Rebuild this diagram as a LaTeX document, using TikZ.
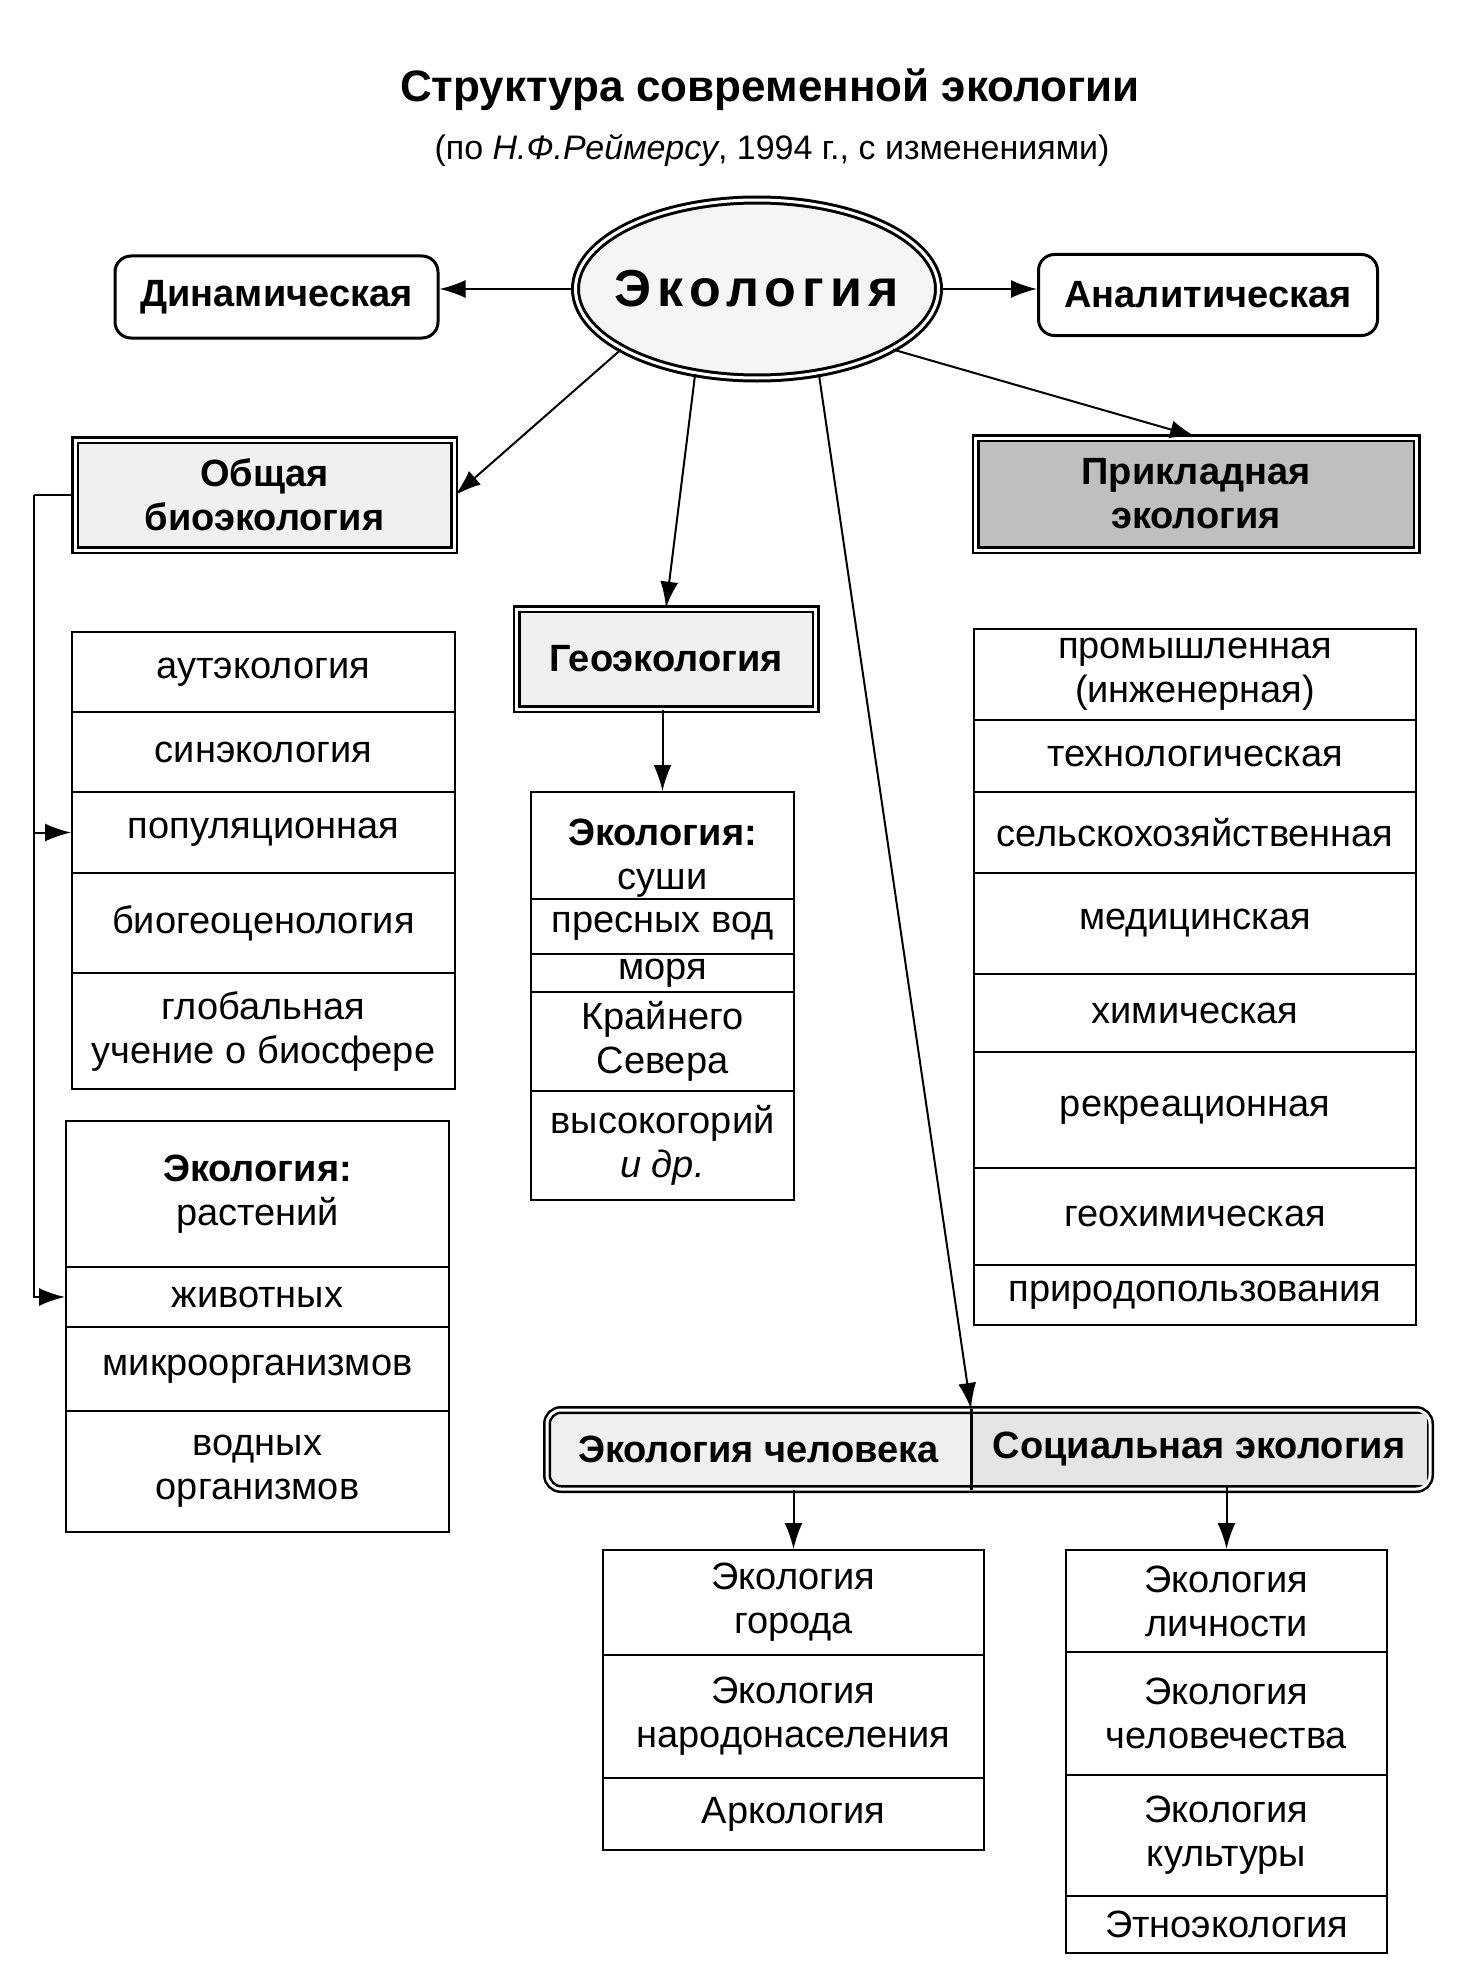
\documentclass[tikz,border=0pt]{standalone}
\usepackage{fontspec}
\setmainfont{Liberation Sans}
\newfontfamily\widefont[LetterSpace=12]{Liberation Sans}
\usetikzlibrary{arrows.meta,shapes.geometric}

\newcommand{\rowfont}{\fontsize{38}{44}\selectfont}

\begin{document}
\begin{tikzpicture}[x=1pt, y=-1pt, ->, >={Latex[length=26pt,width=18pt]}, line width=2pt,
    listbox/.style={draw, anchor=north west, inner sep=0pt, align=center, font=\rowfont},
    pill/.style={draw, line width=3pt, rounded corners=16pt, inner sep=0pt, font=\rowfont\bfseries},
    headbox/.style={draw, line width=2.5pt, double, double distance=3pt, fill=gray!12, inner sep=0pt, align=center, font=\rowfont\bfseries},
    pane/.style={inner sep=0pt, font=\rowfont\bfseries}]
    \useasboundingbox[fill=white] (0,0) rectangle (1470,1961);

    \node[font=\bfseries\fontsize{44}{52}\selectfont] (title) at (770,90) {Структура современной экологии};
    \node[font=\fontsize{34}{40}\selectfont] (sub) at (772,150) {(по \textit{Н.Ф.Реймерсу}, 1994 г., с изменениями)};

    \node[draw, ellipse, line width=3pt, double, double distance=3pt, fill=gray!8, minimum width=363pt, minimum height=178pt, inner sep=0pt,
          font=\widefont\fontsize{52}{60}\selectfont\bfseries] (eco) at (757,289) {\makebox[0pt]{Экология}};
    \node[pill, minimum width=323pt, minimum height=82pt] (dyn) at (276.5,297) {Динамическая};
    \node[pill, minimum width=339pt, minimum height=81pt] (ana) at (1208,295) {Аналитическая};

    \node[headbox, minimum width=379pt, minimum height=110pt] (obs) at (264.5,495) {Общая\\биоэкология};
    \node[headbox, minimum width=299pt, minimum height=100pt] (geo) at (666,659) {Геоэкология};
    \node[headbox, fill=gray!50, minimum width=441pt, minimum height=112pt] (app) at (1196,494) {Прикладная\\экология};

    % biology
    \node[listbox, minimum width=383pt, minimum height=80pt] (b1) at (71,631) {аутэкология};
    \node[listbox, minimum width=383pt, minimum height=80pt] (b2) at (71,711) {синэкология};
    \node[listbox, minimum width=383pt, minimum height=81pt] (b3) at (71,791) {популяционная};
    \node[listbox, minimum width=383pt, minimum height=100pt] (b4) at (71,872) {биогеоценология};
    \node[listbox, minimum width=383pt, minimum height=116pt] (b5) at (71,972) {глобальная\\учение о биосфере};

    \node[listbox, minimum width=383pt, minimum height=146pt] (z1) at (65,1120) {\textbf{Экология:}\\растений};
    \node[listbox, minimum width=383pt, minimum height=60pt] (z2) at (65,1266) {животных};
    \node[listbox, minimum width=383pt, minimum height=84pt] (z3) at (65,1326) {микроорганизмов};
    \node[listbox, minimum width=383pt, minimum height=121pt] (z4) at (65,1410) {водных\\организмов};

    % geo
    \node[listbox, minimum width=263pt, minimum height=107pt] (g1) at (530,791) {\rule{0pt}{52pt}\textbf{Экология:}\\суши};
    \node[listbox, minimum width=263pt, minimum height=55pt] (g2) at (530,898) {пресных вод};
    \node[listbox, minimum width=263pt, minimum height=38pt] (g3) at (530,953) {моря};
    \node[listbox, minimum width=263pt, minimum height=99pt] (g4) at (530,991) {Крайнего\\Севера};
    \node[listbox, minimum width=263pt, minimum height=109pt] (g5) at (530,1090) {высокогорий\\\textit{и др.}};

    % applied
    \node[listbox, minimum width=442pt, minimum height=91pt] (r1) at (973,628) {промышленная\\(инженерная)};
    \node[listbox, minimum width=442pt, minimum height=72pt] (r2) at (973,719) {технологическая};
    \node[listbox, minimum width=442pt, minimum height=81pt] (r3) at (973,791) {сельскохозяйственная};
    \node[listbox, minimum width=442pt, minimum height=101pt] (r4) at (973,872) {медицинская};
    \node[listbox, minimum width=442pt, minimum height=78pt] (r5) at (973,973) {химическая};
    \node[listbox, minimum width=442pt, minimum height=116pt] (r6) at (973,1051) {рекреационная};
    \node[listbox, minimum width=442pt, minimum height=97pt] (r7) at (973,1167) {геохимическая};
    \node[listbox, minimum width=442pt, minimum height=60pt] (r8) at (973,1264) {природопользования};

    % human / social
    \coordinate (hs1) at (547,1410);
    \coordinate (hs2) at (1430,1489);
    \draw[-, line width=2.5pt, double, double distance=3pt, fill=gray!12, rounded corners=14pt] (hs1) rectangle (hs2);
    \node[pane, minimum width=423pt, minimum height=79pt] (hum) at (758.5,1449.5) {Экология человека};
    \node[pane, fill=gray!20, minimum width=455pt, minimum height=71pt] (soc) at (1199,1449.5) {Социальная экология};
    \draw[-, line width=3pt] (hum.north east) -- (hum.south east);

    \node[listbox, minimum width=381pt, minimum height=105pt] (c1) at (602,1549) {Экология\\города};
    \node[listbox, minimum width=381pt, minimum height=123pt] (c2) at (602,1654) {Экология\\народонаселения};
    \node[listbox, minimum width=381pt, minimum height=72pt] (c3) at (602,1777) {Аркология};

    \node[listbox, minimum width=321pt, minimum height=102pt] (s1) at (1065,1549) {Экология\\личности};
    \node[listbox, minimum width=321pt, minimum height=123pt] (s2) at (1065,1651) {Экология\\человечества};
    \node[listbox, minimum width=321pt, minimum height=121pt] (s3) at (1065,1774) {Экология\\культуры};
    \node[listbox, minimum width=321pt, minimum height=57pt] (s4) at (1065,1895) {Этноэкология};

    \draw (eco.west) to (eco.west -| dyn.east);
    \draw (eco.east) to (eco.east -| ana.west);
    \draw (eco.204) to (obs.east);
    \draw (eco.234) to (geo.north);
    \draw (eco.336) to (app.north);
    \draw (eco.306) to (hum.north east);
    \draw (g1.north |- geo.south) to (g1.north);

    \coordinate (feed) at (34,495);
    \draw[-] (obs.west) -- (feed);
    \draw (feed) |- (b3.west);
    \draw (feed) |- (z2.west);

    \draw (c1.north |- hum.south) to (c1.north);
    \draw (s1.north |- soc.south) to (s1.north);
\end{tikzpicture}
\end{document}
